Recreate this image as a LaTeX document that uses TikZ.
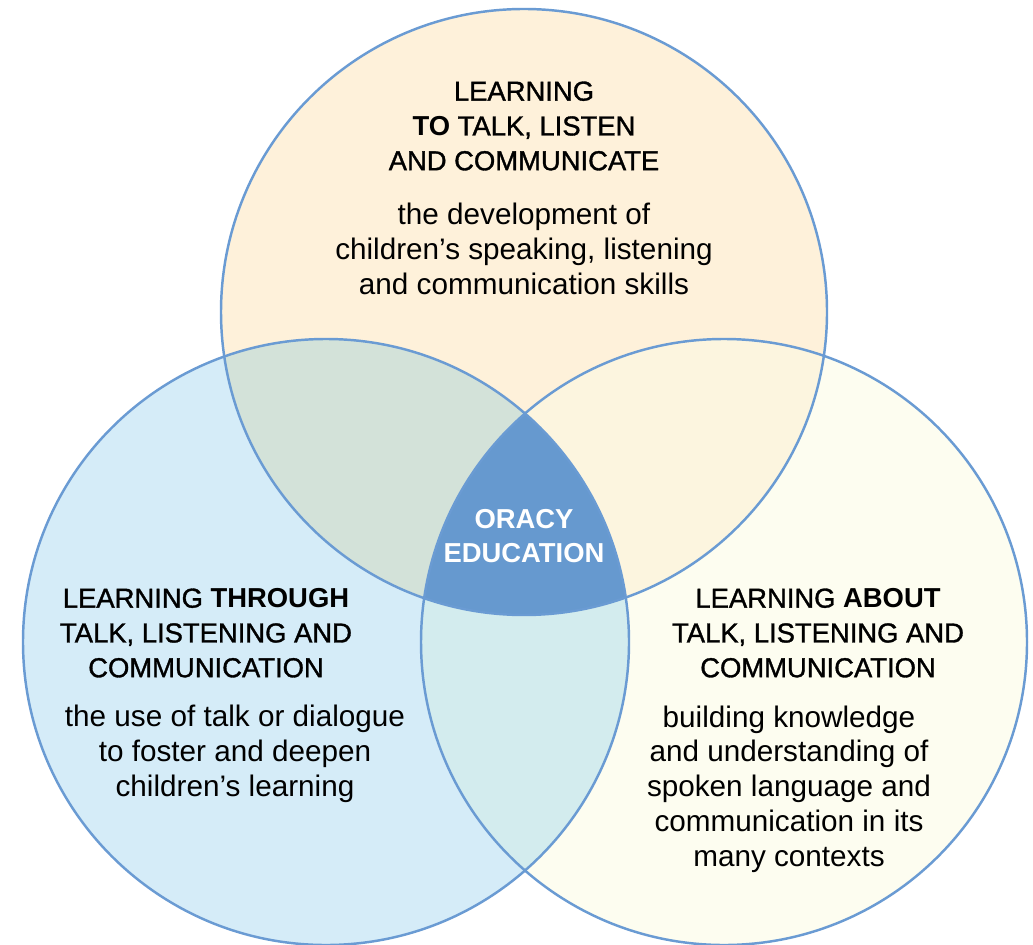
\documentclass[tikz,border=0pt]{standalone}
\usepackage{fontspec}
\setmainfont{Liberation Sans}
\newfontface\medface[FakeBold=1.2]{Liberation Sans}
\newcommand\keyword[1]{{\normalfont\bfseries #1}}
\usepackage{xcolor}
\usetikzlibrary{positioning}
\definecolor{ringblue}{HTML}{6A9BD3}
\definecolor{tofill}{HTML}{FEF1DA}
\definecolor{throughfill}{HTML}{D5ECF8}
\definecolor{aboutfill}{HTML}{FDFDF0}
\definecolor{tothrough}{HTML}{D3E2D9}
\definecolor{toabout}{HTML}{FCF5DF}
\definecolor{throughabout}{HTML}{D3ECEE}
\definecolor{oracyblue}{HTML}{6699CF}
\tikzset{
  head/.style={align=center, font=\medface\fontsize{15.6}{19.8}\selectfont},
  body/.style={align=center, font=\fontsize{16.9}{19.8}\selectfont},
  core/.style={align=center, text=white, font=\bfseries\fontsize{15.6}{19.8}\selectfont},
  ring/.style={draw=ringblue, line width=1.4pt}
}
\begin{document}
\begin{tikzpicture}[x=0.02cm,y=-0.02cm]
  \useasboundingbox (0,0) rectangle (1033,945);
  %\draw[help lines,step=50] (0,0) grid (1033,945); %Hilfsgitter
  
  % circle fills
  \fill[tofill]      (524,312) circle [radius=303]; % to
  \fill[throughfill] (326,642) circle [radius=303]; % through
  \fill[aboutfill]   (724,642) circle [radius=303]; % about
  
  % overlaps
  \begin{scope}
    \clip (524,312) circle [radius=303];
    \fill[tothrough] (326,642) circle [radius=303];
    \fill[toabout]   (724,642) circle [radius=303];
  \end{scope}
  \begin{scope}
    \clip (326,642) circle [radius=303];
    \fill[throughabout] (724,642) circle [radius=303];
  \end{scope}
  \begin{scope}
    \clip (524,312) circle [radius=303];
    \clip (326,642) circle [radius=303];
    \fill[oracyblue] (724,642) circle [radius=303];
  \end{scope}
  
  % outlines
  \draw[ring] (524,312) circle [radius=303];
  \draw[ring] (326,642) circle [radius=303];
  \draw[ring] (724,642) circle [radius=303];
  
  % texts
  \node[head] (toHead) at (524,126) {LEARNING\\\keyword{TO} TALK, LISTEN\\AND COMMUNICATE};
  \node[body] (toBody) at (524,249) {the development of\\children’s speaking, listening\\and communication skills};
  \node[head] (throughHead) at (206,633) {LEARNING \keyword{THROUGH}\\TALK, LISTENING AND\\COMMUNICATION};
  \node[body] (throughBody) at (235,754) {the use of talk or dialogue\\to foster and deepen\\children’s learning};
  \node[head] (aboutHead) at (818,633) {LEARNING \keyword{ABOUT}\\TALK, LISTENING AND\\COMMUNICATION};
  \node[body] (aboutBody) at (789,789) {building knowledge\\and understanding of\\spoken language and\\communication in its\\many contexts};
  \node[core] (oracy) at (524,536) {ORACY\\EDUCATION};
\end{tikzpicture}
\end{document}
